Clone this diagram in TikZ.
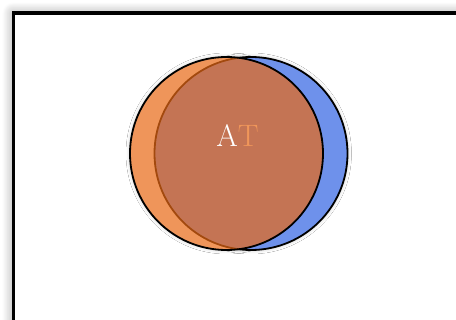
\documentclass[tikz,border=0pt]{standalone}
\usepackage{tikz}
\usetikzlibrary{shadows.blur}

\definecolor{setorange}{RGB}{233,105,20}
\definecolor{setblue}{RGB}{110,145,235}
\definecolor{tagorange}{RGB}{240,150,90}

\begin{document}
\begin{tikzpicture}[
  x=1pt, y=-1pt,
  frame/.style={draw=black, line width=3.5pt, fill=white,
                blur shadow={shadow xshift=0pt, shadow yshift=0pt, shadow blur radius=11pt,
                             shadow blur steps=14, shadow opacity=40}},
  disc/.style={circle, minimum size=193pt, inner sep=0pt},
  halo/.style={disc, blur shadow={shadow xshift=0pt, shadow yshift=0pt, shadow blur radius=4pt,
                                  shadow blur steps=10, shadow opacity=22}},
  blob/.style={disc, draw=black, line width=1.8pt},
  tag/.style={font=\fontsize{31}{31}\selectfont, inner sep=0pt}
]
  \useasboundingbox (0,0) rectangle (456,320);
  \clip (0,0) rectangle (456,320);

  % Frame
  \node[frame, minimum width=480pt, minimum height=340pt, anchor=north west] (panel) at (11.5,11.5) {};

  % Soft shadow under both sets
  \node[halo] (leftshade) at (226.5,153.5) {};
  \node[halo] (rightshade) at (251,153.5) {};
  \node[disc, fill=white] (leftbase) at (leftshade) {};

  % Sets
  \node[blob, fill=setblue] (right) at (rightshade) {};
  \node[blob, fill=setorange, fill opacity=0.7] (left) at (leftshade) {};

  % Label
  \node[tag] (name) at (237.5,136) {\textcolor{white}{A}\textcolor{tagorange}{T}};
\end{tikzpicture}
\end{document}
